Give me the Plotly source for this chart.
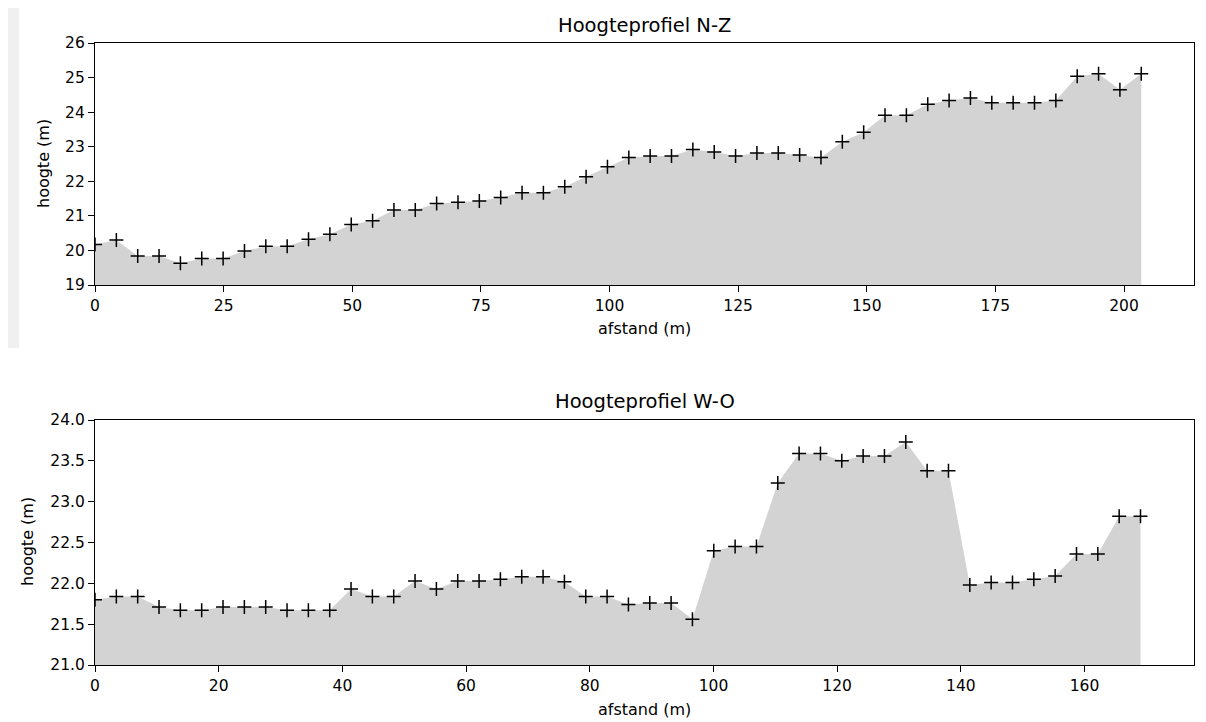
import plotly.graph_objects as go
from plotly.subplots import make_subplots

# --- Data: Hoogteprofiel N-Z ---
nz_afstand = [0.0, 4.15, 8.3, 12.45, 16.6, 20.75, 24.9, 29.05, 33.2, 37.35,
              41.5, 45.65, 49.8, 53.95, 58.1, 62.25, 66.4, 70.55, 74.7, 78.85,
              83.0, 87.15, 91.3, 95.45, 99.6, 103.75, 107.9, 112.05, 116.2, 120.35,
              124.5, 128.65, 132.8, 136.95, 141.1, 145.25, 149.4, 153.55, 157.7, 161.85,
              166.0, 170.15, 174.3, 178.45, 182.6, 186.75, 190.9, 195.05, 199.2, 203.35]
nz_hoogte = [20.17, 20.30, 19.84, 19.84, 19.63, 19.77, 19.77, 19.98, 20.12, 20.12,
             20.32, 20.47, 20.75, 20.86, 21.17, 21.17, 21.36, 21.39, 21.43, 21.53,
             21.67, 21.67, 21.84, 22.13, 22.42, 22.69, 22.73, 22.73, 22.92, 22.85,
             22.73, 22.82, 22.82, 22.76, 22.69, 23.14, 23.42, 23.91, 23.91, 24.23,
             24.34, 24.41, 24.27, 24.27, 24.27, 24.34, 25.04, 25.11, 24.65, 25.11]

# --- Data: Hoogteprofiel W-O ---
wo_afstand = [0.0, 3.45, 6.9, 10.35, 13.8, 17.25, 20.7, 24.15, 27.6, 31.05,
              34.5, 37.95, 41.4, 44.85, 48.3, 51.75, 55.2, 58.65, 62.1, 65.55,
              69.0, 72.45, 75.9, 79.35, 82.8, 86.25, 89.7, 93.15, 96.6, 100.05,
              103.5, 106.95, 110.4, 113.85, 117.3, 120.75, 124.2, 127.65, 131.1, 134.55,
              138.0, 141.45, 144.9, 148.35, 151.8, 155.25, 158.7, 162.15, 165.6, 169.05]
wo_hoogte = [21.80, 21.84, 21.84, 21.71, 21.67, 21.67, 21.71, 21.71, 21.71, 21.67,
             21.67, 21.67, 21.93, 21.84, 21.84, 22.03, 21.93, 22.03, 22.03, 22.05,
             22.08, 22.08, 22.02, 21.84, 21.84, 21.74, 21.76, 21.76, 21.56, 22.40,
             22.45, 22.45, 23.23, 23.59, 23.59, 23.50, 23.56, 23.56, 23.73, 23.38,
             23.38, 21.98, 22.01, 22.01, 22.05, 22.09, 22.36, 22.36, 22.82, 22.82]

titels = ["Hoogteprofiel N-Z", "Hoogteprofiel W-O"]
x_label = "afstand (m)"
y_label = "hoogte (m)"

FONT = "DejaVu Sans"
OFF = 8  # page body margin in the browser
W, H = 1206 - OFF, 722 - OFF
# target page-pixel positions of the plot area
PL, PR, PT, PB = 95, 1194, 43, 665
ML, MT = PL - OFF, PT - OFF
MR = W + OFF - PR
MB = H + OFF - PB
plot_h = H - MT - MB
plot_w = W - ML - MR

fig = make_subplots(rows=2, cols=1, vertical_spacing=0.0)

for row, (xs, ys) in enumerate([(nz_afstand, nz_hoogte), (wo_afstand, wo_hoogte)], start=1):
    fig.add_trace(go.Scatter(x=xs, y=ys, mode="lines", line=dict(width=0, color="#d3d3d3"),
                             fill="tozeroy", fillcolor="#d3d3d3", showlegend=False,
                             hoverinfo="skip"), row=row, col=1)
    fig.add_trace(go.Scatter(x=xs, y=ys, mode="markers",
                             marker=dict(symbol="cross-thin", size=10,
                                         line=dict(color="black", width=1.5)),
                             showlegend=False), row=row, col=1)

def py2paper(py):
    return (PB - py) / plot_h

def px2paper(px):
    return (px - PL) / plot_w

axis_common = dict(showline=True, linecolor="black", linewidth=1.1, mirror=True,
                   ticks="outside", ticklen=6, tickwidth=1.1, tickcolor="black",
                   showgrid=False, zeroline=False,
                   tickfont=dict(family=FONT, size=15.5, color="black"))

fig.update_layout(
    xaxis=dict(domain=[0, 1], range=[0, 213.6], tickvals=[0, 25, 50, 75, 100, 125, 150, 175, 200],
               anchor="y", **axis_common),
    yaxis=dict(domain=[py2paper(285), 1.0], range=[19, 26], tickvals=[19, 20, 21, 22, 23, 24, 25, 26],
               anchor="x", **axis_common),
    xaxis2=dict(domain=[0, 1], range=[0, 177.7], tickvals=[0, 20, 40, 60, 80, 100, 120, 140, 160],
                anchor="y2", **axis_common),
    yaxis2=dict(domain=[0.0, py2paper(420)], range=[21, 24],
                tickvals=[21.0, 21.5, 22.0, 22.5, 23.0, 23.5, 24.0], tickformat=".1f",
                anchor="x2", **axis_common),
)

annotations = []
for title, tc in ((titels[0], 25), (titels[1], 401)):
    annotations.append(dict(text=title, x=0.5, xref="paper", y=py2paper(tc), yref="paper",
                            xanchor="center", yanchor="middle", showarrow=False,
                            font=dict(family=FONT, size=19.5, color="black")))
for cy in (328, 709):
    annotations.append(dict(text=x_label, x=0.5, xref="paper", y=py2paper(cy), yref="paper",
                            xanchor="center", yanchor="middle", showarrow=False,
                            font=dict(family=FONT, size=16, color="black")))
for cx, cy in ((43, 164), (27, 542)):
    annotations.append(dict(text=y_label, x=px2paper(cx), xref="paper",
                            y=py2paper(cy), yref="paper", textangle=-90,
                            xanchor="center", yanchor="middle", showarrow=False,
                            font=dict(family=FONT, size=16, color="black")))

fig.update_layout(
    width=W, height=H,
    margin=dict(l=ML, r=MR, t=MT, b=MB),
    paper_bgcolor="white", plot_bgcolor="white",
    font=dict(family=FONT, color="black"),
    annotations=annotations,
    shapes=[dict(type="rect", xref="paper", yref="paper",
                 x0=px2paper(7), x1=px2paper(19),
                 y0=py2paper(348), y1=py2paper(5),
                 fillcolor="#f0f0f0", line=dict(width=0), layer="below")],
)

fig.write_html("out.html")
